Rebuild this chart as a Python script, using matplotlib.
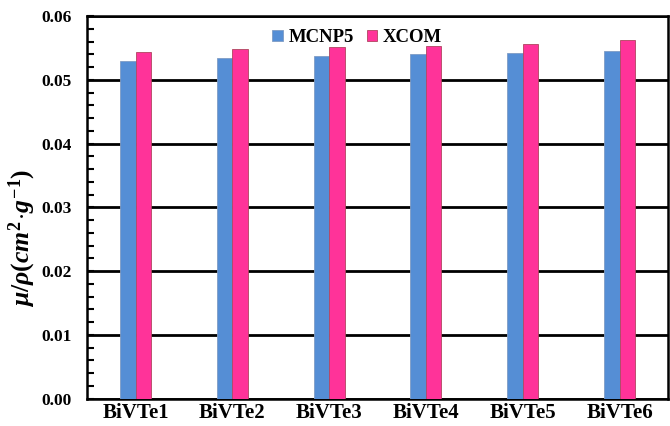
import matplotlib
matplotlib.use("Agg")
import matplotlib.pyplot as plt
import numpy as np
from matplotlib.ticker import MultipleLocator, FormatStrFormatter

plt.rcParams['font.family'] = ['Liberation Serif', 'DejaVu Serif']
plt.rcParams['font.weight'] = 'bold'
plt.rcParams['mathtext.fontset'] = 'custom'
plt.rcParams['mathtext.rm'] = 'Liberation Serif:bold'
plt.rcParams['mathtext.it'] = 'Liberation Serif:bold:italic'
plt.rcParams['mathtext.bf'] = 'Liberation Serif:bold'

samples = ["BiVTe1", "BiVTe2", "BiVTe3", "BiVTe4", "BiVTe5", "BiVTe6"]
mcnp5 = [0.0530, 0.0534, 0.0537, 0.0540, 0.0542, 0.0546]
xcom = [0.0544, 0.0548, 0.0551, 0.0554, 0.0556, 0.0562]

fig = plt.figure(figsize=(6.7, 4.26), dpi=100)
ax = fig.add_axes([0.130, 0.064, 0.867, 0.898])

x = np.arange(len(samples))
w = 0.16
ax.bar(x - w, mcnp5, width=w, align='edge', color='#558ED5',
       edgecolor='#7f9cc4', linewidth=0.6, label='MCNP5', zorder=3)
ax.bar(x, xcom, width=w, align='edge', color='#FF3399',
       edgecolor='#b0455f', linewidth=0.6, label='XCOM', zorder=3)

ax.set_xlim(-0.5, len(samples) - 0.5)
ax.set_ylim(0, 0.06)
ax.yaxis.set_major_locator(MultipleLocator(0.01))
ax.yaxis.set_minor_locator(MultipleLocator(0.002))
ax.yaxis.set_major_formatter(FormatStrFormatter('%.2f'))
ax.grid(axis='y', which='major', color='black', linewidth=2.0, zorder=1)
ax.set_axisbelow(True)

ax.set_xticks(x)
ax.set_xticklabels(samples, fontsize=15, fontweight='bold')
ax.tick_params(axis='x', length=0, pad=3)
ax.tick_params(axis='y', which='major', direction='in', length=5, width=1.5,
               labelsize=12.5, pad=11)
ax.tick_params(axis='y', which='minor', direction='in', length=5, width=1.5)
for lbl in ax.get_yticklabels():
    lbl.set_fontweight('bold')

for s in ax.spines.values():
    s.set_linewidth(1.8)
    s.set_color('black')

ax.set_ylabel(r'$\mu/\rho(cm^{2}\!\cdot\!g^{-1})$', fontsize=18.5)
ax.yaxis.set_label_coords(-0.085, 0.42)

ax.legend(loc='upper center', bbox_to_anchor=(0.465, 1.0), ncol=2,
          frameon=False, handlelength=0.55, handleheight=0.55,
          handletextpad=0.3, columnspacing=0.7, borderaxespad=0.3,
          prop={'weight': 'bold', 'size': 13.5})

fig.savefig("out.png", dpi=100)
